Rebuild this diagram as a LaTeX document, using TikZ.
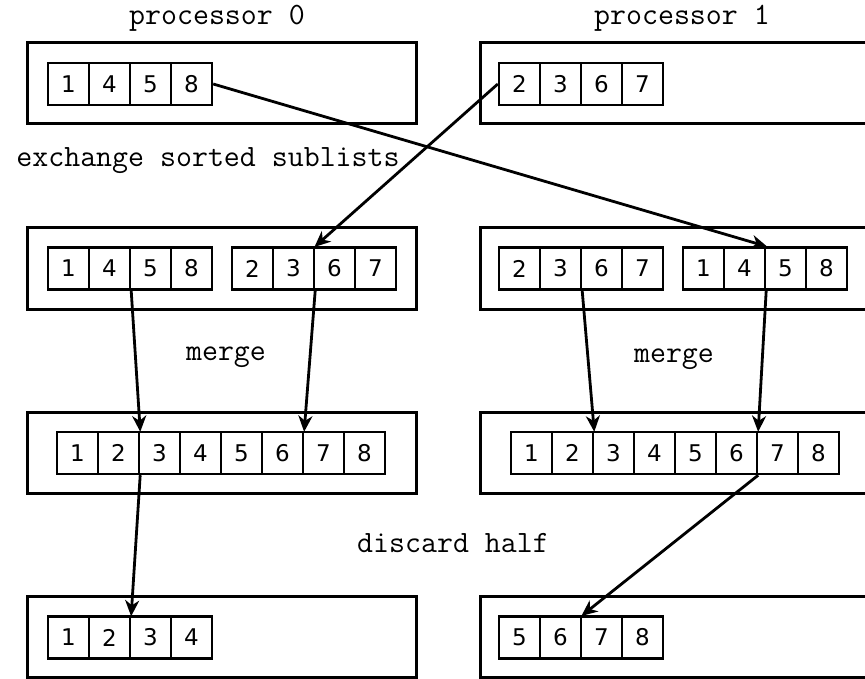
\documentclass[tikz,border=0pt]{standalone}
\usepackage{fontspec}
\newfontfamily\digitfont{DejaVu Sans}
\usetikzlibrary{arrows.meta}
\tikzset{
  cellbox/.style={draw, line width=2.4pt, minimum width=41pt, minimum height=42pt, inner sep=0pt, font=\digitfont\fontsize{23}{23}\selectfont},
  outerbox/.style={draw, line width=3pt, minimum width=389pt, minimum height=81pt, inner sep=0pt},
  lbl/.style={font=\ttfamily\fontsize{31}{31}\selectfont, inner sep=0pt},
  conn/.style={line width=2.8pt, -{Stealth[length=16pt, width=14pt, inset=5pt]}, shorten >=-1pt}
}
\newcommand{\cellrow}[4]{% name, x of left edge, y center, list
  \foreach \v [count=\i] in {#4} {
    \node[cellbox] (#1-\i) at ({#2+20.5+41*(\i-1)}, #3) {\v};
  }%
}
\begin{document}
\begin{tikzpicture}[x=1pt, y=-1pt]
\useasboundingbox (0,0) rectangle (865,679);
\clip (0,0) rectangle (865,679);
% titles
\node[lbl] (t0) at (217,18) {processor 0};
\node[lbl] (t1) at (682,18) {processor 1};
\node[lbl] (ex) at (208,161) {exchange sorted sublists};
\node[lbl] (m0) at (226,357) {merge};
\node[lbl] (m1) at (674,359) {merge};
\node[lbl] (dh) at (453,543) {discard half};
% outer boxes
\node[outerbox] (b1L) at (221.5,83.5) {};
\node[outerbox] (b1R) at (674.5,83.5) {};
\node[outerbox] (b2L) at (221.5,268.5) {};
\node[outerbox] (b2R) at (674.5,268.5) {};
\node[outerbox] (b3L) at (221.5,452.5) {};
\node[outerbox] (b3R) at (674.5,452.5) {};
\node[outerbox] (b4L) at (221.5,637) {};
\node[outerbox] (b4R) at (674.5,637) {};
% cells
\cellrow{r1L}{48}{84}{1,4,5,8}
\cellrow{r1R}{499}{84}{2,3,6,7}
\cellrow{r2La}{48}{268.5}{1,4,5,8}
\cellrow{r2Lb}{232}{268.5}{2,3,6,7}
\cellrow{r2Ra}{499}{268.5}{2,3,6,7}
\cellrow{r2Rb}{683}{268.5}{1,4,5,8}
\cellrow{r3L}{57}{453}{1,2,3,4,5,6,7,8}
\cellrow{r3R}{511}{453}{1,2,3,4,5,6,7,8}
\cellrow{r4L}{48}{637.5}{1,2,3,4}
\cellrow{r4R}{499}{637.5}{5,6,7,8}
% connectors
\draw[conn] (r1L-4.east) -- (r2Rb-2.north east);
\draw[conn] (r1R-1.west) -- (r2Lb-2.north east);
\draw[conn] (r2La-2.south east) -- (r3L-2.north east);
\draw[conn] (r2Lb-2.south east) -- (r3L-6.north east);
\draw[conn] (r2Ra-2.south east) -- (r3R-2.north east);
\draw[conn] (r2Rb-2.south east) -- (r3R-6.north east);
\draw[conn] (r3L-2.south east) -- (r4L-2.north east);
\draw[conn] (r3R-6.south east) -- (r4R-2.north east);
\end{tikzpicture}
\end{document}
